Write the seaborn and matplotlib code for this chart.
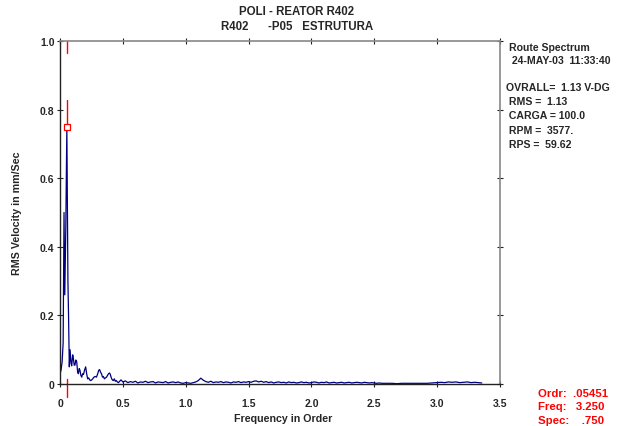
import matplotlib
matplotlib.use("Agg")
import matplotlib.pyplot as plt
import seaborn as sns
import pandas as pd

# ---- data ----
orders = [0.000, 0.008, 0.017, 0.025, 0.032, 0.038, 0.046, 0.0545, 0.063, 0.068,
          0.074, 0.080, 0.088, 0.093, 0.101, 0.106, 0.113, 0.119, 0.126, 0.133,
          0.140, 0.146, 0.153, 0.159, 0.166, 0.173, 0.180, 0.187, 0.195, 0.204,
          0.212, 0.220, 0.228, 0.236, 0.245, 0.252, 0.260, 0.270, 0.280, 0.290,
          0.300, 0.308, 0.315, 0.322, 0.330, 0.338, 0.345, 0.353, 0.362, 0.370,
          0.378, 0.386, 0.394, 0.400, 0.408, 0.416, 0.424, 0.432, 0.440, 0.448,
          0.456, 0.465, 0.475, 0.485,
          0.50, 0.52, 0.54, 0.56, 0.58, 0.60, 0.62, 0.64, 0.66, 0.68,
          0.70, 0.72, 0.74, 0.76, 0.78, 0.80, 0.82, 0.84, 0.86, 0.88,
          0.90, 0.92, 0.94, 0.96, 0.98, 1.00, 1.02, 1.04, 1.06, 1.08,
          1.10, 1.12, 1.14, 1.16, 1.18, 1.20, 1.22, 1.24, 1.26, 1.28,
          1.30, 1.32, 1.34, 1.36, 1.38, 1.40, 1.42, 1.44, 1.46, 1.48,
          1.50, 1.52, 1.54, 1.56, 1.58, 1.60, 1.62, 1.64, 1.66, 1.68,
          1.70, 1.72, 1.74, 1.76, 1.78, 1.80, 1.82, 1.84, 1.86, 1.88,
          1.90, 1.92, 1.94, 1.96, 1.98, 2.00, 2.02, 2.04, 2.06, 2.08,
          2.10, 2.12, 2.14, 2.16, 2.18, 2.20, 2.22, 2.24, 2.26, 2.28,
          2.30, 2.32, 2.34, 2.36, 2.38, 2.40, 2.42, 2.44, 2.46, 2.48,
          2.50, 2.52, 2.54, 2.56, 2.58, 2.60, 2.64, 2.68, 2.72, 2.76,
          2.80, 2.84, 2.88, 2.92, 2.96, 3.00, 3.03, 3.06, 3.09, 3.12,
          3.15, 3.18, 3.21, 3.24, 3.27, 3.30, 3.33, 3.355]
amps = [0.030, 0.040, 0.065, 0.120, 0.500, 0.260, 0.450, 0.750, 0.300, 0.200,
        0.050, 0.100, 0.060, 0.053, 0.085, 0.075, 0.055, 0.055, 0.070, 0.065,
        0.035, 0.030, 0.045, 0.040, 0.025, 0.020, 0.030, 0.028, 0.040, 0.050,
        0.030, 0.015, 0.018, 0.012, 0.010, 0.012, 0.015, 0.020, 0.022, 0.020,
        0.030, 0.040, 0.042, 0.035, 0.030, 0.020, 0.022, 0.015, 0.018, 0.020,
        0.025, 0.030, 0.032, 0.028, 0.018, 0.012, 0.010, 0.015, 0.008, 0.010,
        0.006, 0.004, 0.008, 0.012,
        0.006, 0.009, 0.004, 0.007, 0.005, 0.008, 0.003, 0.006, 0.005, 0.008,
        0.004, 0.006, 0.007, 0.003, 0.006, 0.005, 0.004, 0.007, 0.003, 0.005,
        0.006, 0.004, 0.006, 0.003, 0.002, 0.004, 0.003, 0.002, 0.004, 0.006,
        0.010, 0.017, 0.011, 0.007, 0.005, 0.008, 0.004, 0.006, 0.005, 0.007,
        0.004, 0.006, 0.005, 0.003, 0.006, 0.005, 0.007, 0.004, 0.006, 0.005,
        0.007, 0.005, 0.008, 0.009, 0.006, 0.008, 0.005, 0.007, 0.004, 0.006,
        0.003, 0.005, 0.006, 0.004, 0.005, 0.003, 0.006, 0.004, 0.005, 0.003,
        0.004, 0.006, 0.004, 0.005, 0.003, 0.004, 0.006, 0.005, 0.003, 0.005,
        0.004, 0.006, 0.003, 0.004, 0.005, 0.003, 0.004, 0.005, 0.003, 0.004,
        0.005, 0.003, 0.004, 0.005, 0.004, 0.003, 0.005, 0.004, 0.003, 0.004,
        0.003, 0.002, 0.003, 0.002, 0.002, 0.002, 0.002, 0.001, 0.002, 0.002,
        0.002, 0.002, 0.002, 0.002, 0.003, 0.004, 0.005, 0.004, 0.006, 0.005,
        0.006, 0.004, 0.005, 0.006, 0.004, 0.005, 0.004, 0.003]

xticks = [0, 0.5, 1.0, 1.5, 2.0, 2.5, 3.0, 3.5]
xticklabels = ["0", "0.5", "1.0", "1.5", "2.0", "2.5", "3.0", "3.5"]
yticks = [0, 0.2, 0.4, 0.6, 0.8, 1.0]
yticklabels = ["0", "0.2", "0.4", "0.6", "0.8", "1.0"]

cursor_order = 0.05451
cursor_spec = 0.750

title1 = "POLI - REATOR R402"
title2 = "R402      -P05   ESTRUTURA"
info_lines = ["Route Spectrum", " 24-MAY-03  11:33:40"]
info2_lines = ["OVRALL=  1.13 V-DG", " RMS =  1.13", " CARGA = 100.0",
               " RPM =  3577.", " RPS =  59.62"]
cursor_lines = ["Ordr:  .05451", "Freq:   3.250", "Spec:    .750"]

# ---- plot ----
sns.set_theme(style="white")
plt.rcParams['font.family'] = ['Liberation Sans', 'DejaVu Sans']
plt.rcParams['font.weight'] = 'bold'

fig = plt.figure(figsize=(6.28, 4.27), dpi=100)
ax = fig.add_axes([60/628, 1 - 385/427, 440/628, 343/427])

df = pd.DataFrame({"order": orders, "amp": amps})
sns.lineplot(data=df, x="order", y="amp", ax=ax, color="#000080",
             linewidth=0.9, estimator=None, sort=False)

ax.set_xlim(0, 3.5)
ax.set_ylim(0, 1.0)
ax.set_xticks(xticks)
ax.set_xticklabels(xticklabels, fontsize=7.5, fontweight='bold')
ax.set_yticks(yticks)
ax.set_yticklabels(yticklabels, fontsize=7.5, fontweight='bold')
ax.tick_params(axis='both', which='both', direction='inout', length=5, width=0.8,
               top=True, right=True, bottom=True, left=True, color='#222222')
ax.tick_params(axis='x', pad=7.5)
ax.tick_params(axis='y', pad=1.5)
ax.set_xlabel("Frequency in Order", fontsize=7.7, fontweight='bold')
ax.set_ylabel("RMS Velocity in mm/Sec", fontsize=7.7, fontweight='bold')
ax.xaxis.set_label_coords((283 - 60) / 440, -(414.5 - 385) / 343)
ax.yaxis.set_label_coords(-(60 - 22) / 440, 0.5)

for side in ['left', 'bottom']:
    ax.spines[side].set_color('#222222')
    ax.spines[side].set_linewidth(1.0)
for side in ['top', 'right']:
    ax.spines[side].set_color('#888888')
    ax.spines[side].set_linewidth(1.2)

# cursor
red = "#ff0000"
ax.plot([cursor_order, cursor_order], [1.0, 0.965], color=red, lw=1.0)
ax.plot([cursor_order, cursor_order], [cursor_spec + 0.079, cursor_spec + 0.008], color=red, lw=1.0)
ax.plot([cursor_order], [cursor_spec], marker='s', markersize=5, markerfacecolor='white',
        markeredgecolor=red, markeredgewidth=0.9, zorder=5)
ax.plot([cursor_order, cursor_order], [0.015, -0.038], color=red, lw=1.0, clip_on=False)

# texts
fig.text(297/628, 1 - 12/427, title1, ha='center', va='center', fontsize=8.3, fontweight='bold')
fig.text(297/628, 1 - 27/427, title2, ha='center', va='center', fontsize=8.3, fontweight='bold')

y = 48
for line in info_lines:
    fig.text(509/628, 1 - y/427, line, ha='left', va='center', fontsize=7.6, fontweight='bold')
    y += 13.5
y = 88
for line in info2_lines:
    fig.text(506/628, 1 - y/427, line, ha='left', va='center', fontsize=7.6, fontweight='bold')
    y += 14.2
y = 394
for line in cursor_lines:
    fig.text(538/628, 1 - y/427, line, ha='left', va='center', fontsize=8.2,
             fontweight='bold', color=red)
    y += 13.5

fig.savefig("out.png", dpi=100)
